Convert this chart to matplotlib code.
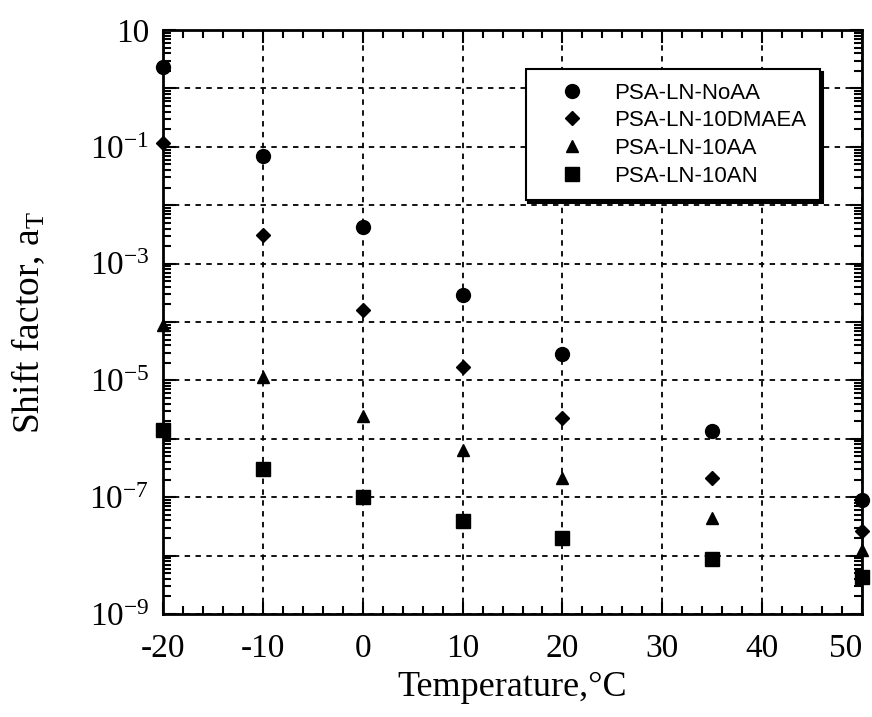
import matplotlib
matplotlib.use("Agg")
import matplotlib.pyplot as plt
import numpy as np
from matplotlib.ticker import FixedLocator, LogLocator, MultipleLocator, NullFormatter

plt.rcParams["font.family"] = ["Liberation Serif", "DejaVu Serif"]
plt.rcParams["mathtext.fontset"] = "custom"
plt.rcParams["mathtext.rm"] = "Liberation Serif"
plt.rcParams["mathtext.it"] = "Liberation Serif"
plt.rcParams["mathtext.default"] = "regular"

TEMPS = [-20, -10, 0, 10, 20, 35, 50]
SERIES = ["PSA-LN-NoAA", "PSA-LN-10DMAEA", "PSA-LN-10AA", "PSA-LN-10AN"]
NOAA = [2.3, 7.0e-2, 4.3e-3, 2.9e-4, 2.8e-5, 1.35e-6, 9.0e-8]
DMAEA = [1.15e-1, 3.1e-3, 1.6e-4, 1.7e-5, 2.3e-6, 2.1e-7, 2.6e-8]
AA = [9.0e-5, 1.15e-5, 2.5e-6, 6.5e-7, 2.1e-7, 4.4e-8, 1.25e-8]
AN = [1.4e-6, 3.0e-7, 1.0e-7, 3.9e-8, 2.0e-8, 8.7e-9, 4.3e-9]

Y_LABEL_EXP = [1, -1, -3, -5, -7, -9]
X_TICKS = [-20, -10, 0, 10, 20, 30, 40, 50]

fig = plt.figure(figsize=(8.72, 7.17), dpi=100)
ax = fig.add_axes([0.187, 0.1437, 0.8015, 0.8143])

markers = [("o", 10), ("D", 7), ("^", 9), ("s", 9.5)]
for name, vals, (m, ms) in zip(SERIES, [NOAA, DMAEA, AA, AN], markers):
    ax.plot(TEMPS, vals, linestyle="none", marker=m, markersize=ms,
            color="black", label=name, clip_on=False, zorder=5)

ax.set_yscale("log")
ax.set_xlim(-20, 50)
ax.set_ylim(1e-9, 10)

ax.xaxis.set_major_locator(FixedLocator(X_TICKS))
ax.xaxis.set_minor_locator(MultipleLocator(2))
xlabs = ax.set_xticklabels([str(t) for t in X_TICKS])
# the last label sits at the right edge of the figure
xlabs[-1].set_horizontalalignment("right")
xlabs[-1].set_x(50)

ax.yaxis.set_major_locator(FixedLocator([10.0 ** e for e in range(-9, 2)]))
ax.yaxis.set_minor_locator(LogLocator(base=10, subs=np.arange(2, 10), numticks=30))
ax.yaxis.set_minor_formatter(NullFormatter())
ylabels = []
for e in range(-9, 2):
    if e == 1:
        ylabels.append("10")
    elif e in Y_LABEL_EXP:
        ylabels.append(f"$10^{{{e}}}$")
    else:
        ylabels.append("")
ax.set_yticklabels(ylabels)

ax.grid(True, which="major", color="black", linestyle=(0, (3, 3)), linewidth=1.3)
ax.tick_params(which="both", direction="in", top=True, right=True, colors="black",
               width=1.5)
ax.tick_params(which="major", length=9, labelsize=24)
ax.tick_params(axis="x", which="major", pad=14)
ax.tick_params(axis="y", which="major", pad=10)
ax.tick_params(which="minor", length=6)
for sp in ax.spines.values():
    sp.set_linewidth(2)

ax.set_xlabel("Temperature,\u00b0C", fontsize=26, labelpad=5)
ax.set_ylabel("Shift factor, $a_T$", fontsize=27, labelpad=30)

leg = ax.legend(loc="upper right", bbox_to_anchor=(0.94, 0.933), frameon=True,
                fancybox=False, shadow={"color": "black", "alpha": 1.0},
                edgecolor="black", framealpha=1.0, borderpad=0.6,
                handlelength=3.0, handletextpad=0.4, labelspacing=0.3,
                borderaxespad=0,
                prop={"family": "Liberation Sans", "size": 16})
leg.get_frame().set_linewidth(1.5)

fig.savefig("out.png", dpi=100)
